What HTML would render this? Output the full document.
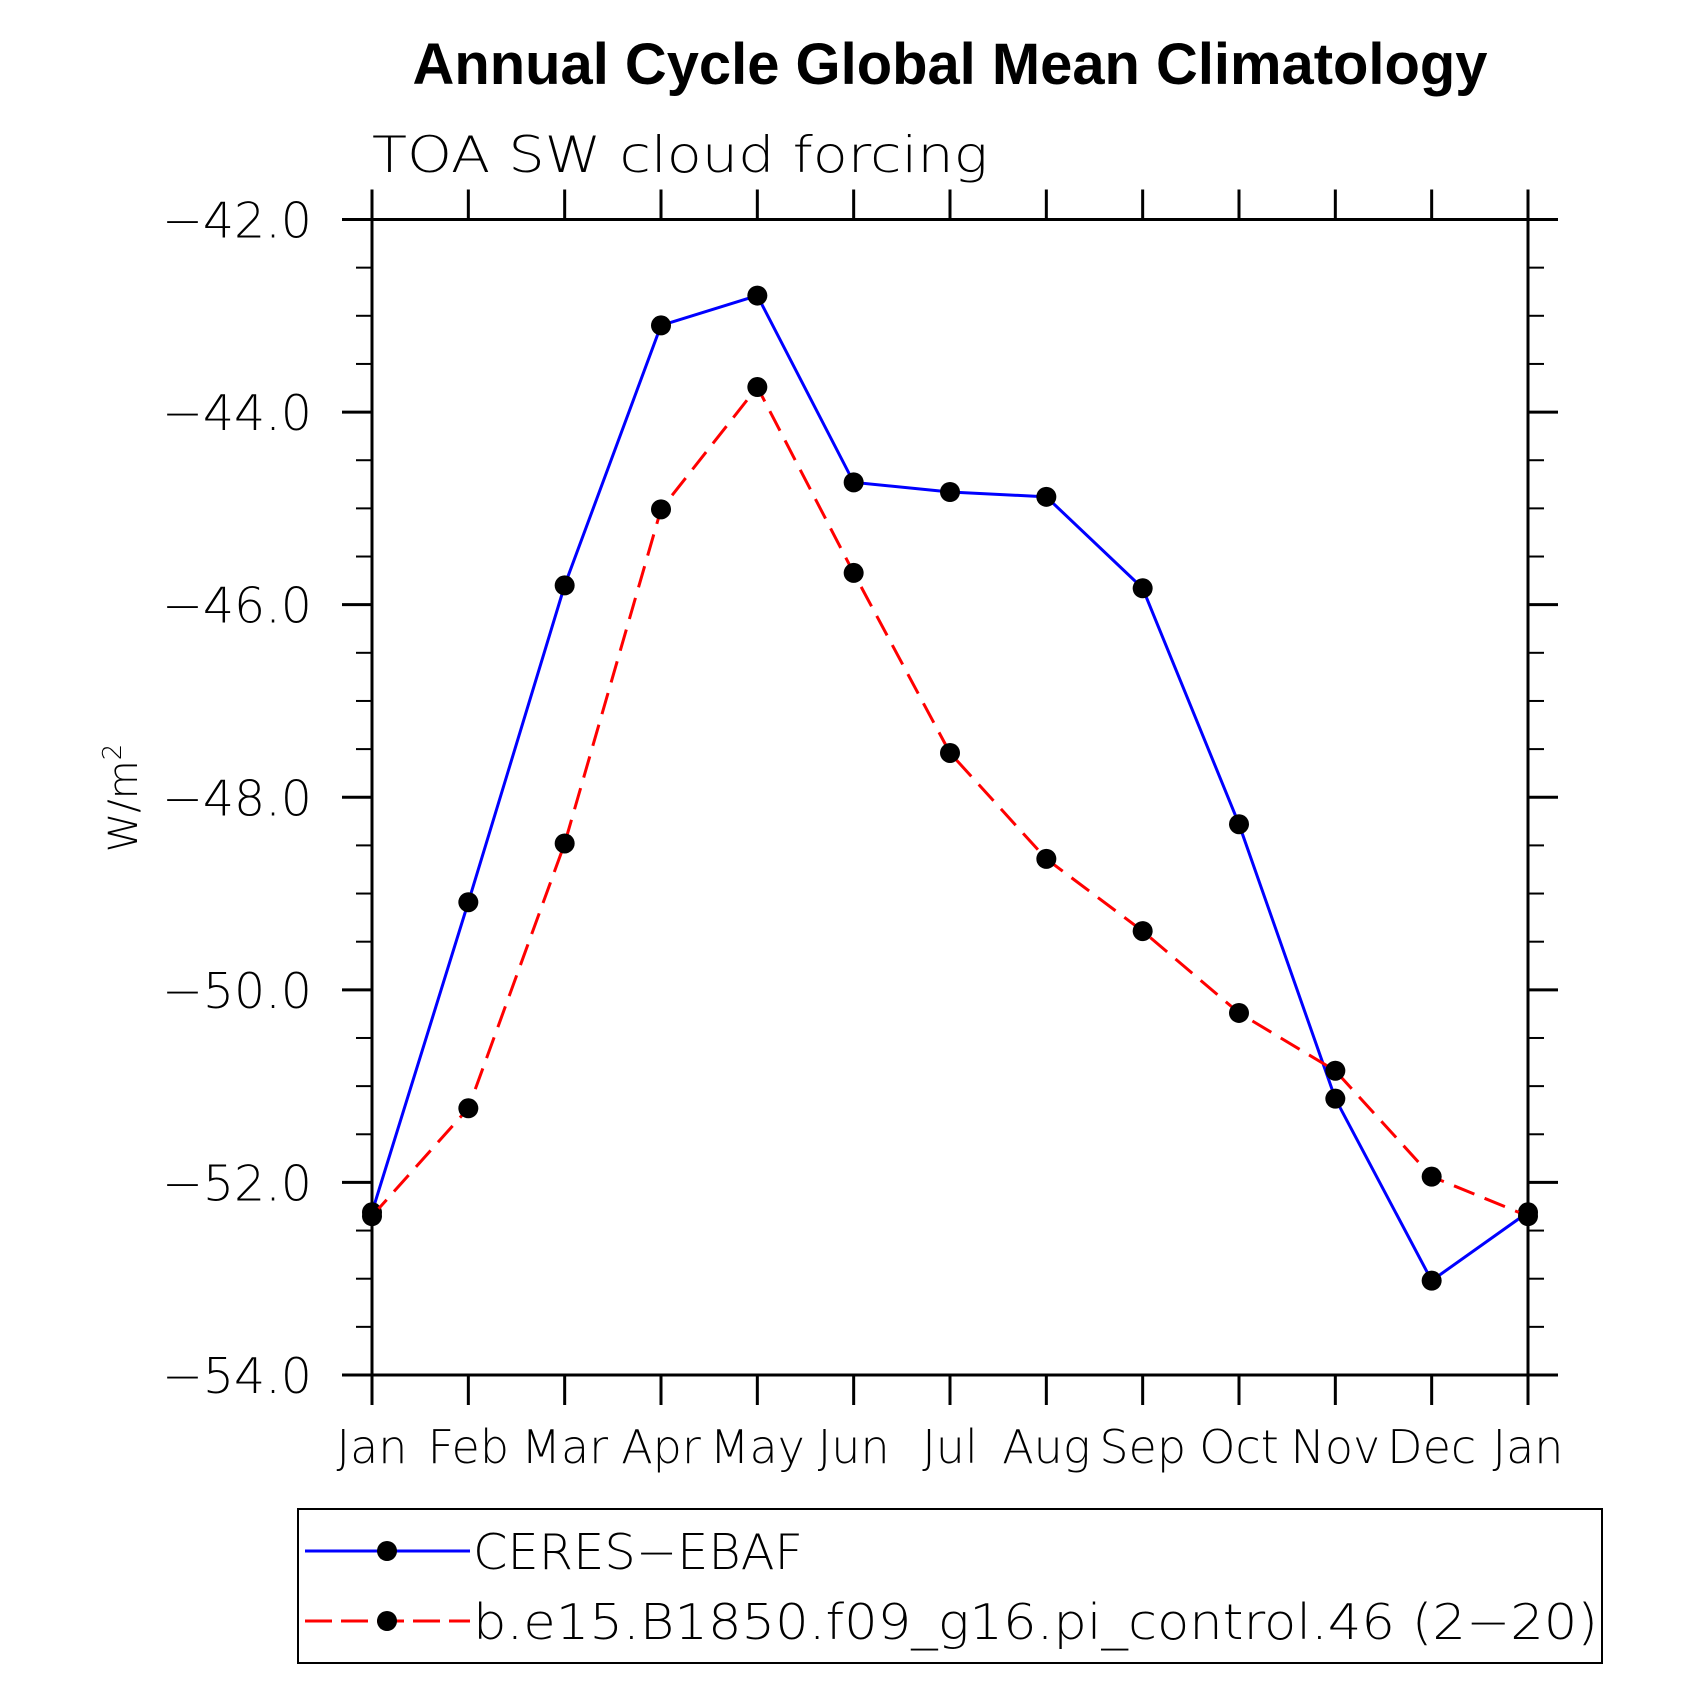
<!DOCTYPE html>
<html><head><meta charset="utf-8"><style>
html,body{margin:0;padding:0;background:#fff}
svg{display:block}
text{font-family:"DejaVu Sans","Liberation Sans",sans-serif;font-weight:200;fill:#000}
</style></head><body>
<svg id="chart" width="1702" height="1702" viewBox="0 0 1702 1702" xmlns="http://www.w3.org/2000/svg">
<text x="950" y="84" text-anchor="middle" font-size="58" textLength="1075" lengthAdjust="spacingAndGlyphs" style="font-family:'Liberation Sans',sans-serif;font-weight:bold">Annual Cycle Global Mean Climatology</text>
<text x="372" y="172" font-size="50" textLength="616" lengthAdjust="spacingAndGlyphs">TOA SW cloud forcing</text>
<text transform="translate(137,798) rotate(-90)" text-anchor="middle" font-size="40">W/m<tspan dy="-16" font-size="26">2</tspan></text>
<g id="axes"></g>
<g id="series"></g>
<g>
<rect x="298" y="1509" width="1304" height="154" fill="none" stroke="#000" stroke-width="2"/>
<g>
<line x1="305" y1="1551" x2="470" y2="1551" stroke="#0000ff" stroke-width="3"/>
<circle cx="387" cy="1551" r="10" fill="#000"/>
<text x="473" y="1569" font-size="49" textLength="330" lengthAdjust="spacingAndGlyphs">CERES−EBAF</text>
</g>
<g>
<line x1="305" y1="1621" x2="470" y2="1621" stroke="#ff0000" stroke-width="3" stroke-dasharray="27,9"/>
<circle cx="387" cy="1621" r="10" fill="#000"/>
<text x="473" y="1639" font-size="49" textLength="1125" lengthAdjust="spacingAndGlyphs">b.e15.B1850.f09_g16.pi_control.46 (2−20)</text>
</g>
</g>
</svg>
<script>
const months = ["Jan","Feb","Mar","Apr","May","Jun","Jul","Aug","Sep","Oct","Nov","Dec","Jan"];
const ceres = [-52.31,-49.09,-45.80,-43.10,-42.79,-44.73,-44.83,-44.88,-45.83,-48.28,-51.13,-53.02,-52.31];
const model = [-52.35,-51.23,-48.48,-45.01,-43.74,-45.67,-47.54,-48.64,-49.39,-50.24,-50.84,-51.94,-52.35];
const yTicks = [-42,-44,-46,-48,-50,-52,-54];
const yTickLabels = ["−42.0","−44.0","−46.0","−48.0","−50.0","−52.0","−54.0"];

const X0=372, X1=1528, Y0=219.5, Y1=1375;
const yMin=-54, yMax=-42;
function xs(i){return X0+(X1-X0)*i/(months.length-1);}
function ys(v){return Y1-(v-yMin)/(yMax-yMin)*(Y1-Y0);}
const NS="http://www.w3.org/2000/svg";
function mk(tag,attrs,parent){const e=document.createElementNS(NS,tag);for(const k in attrs)e.setAttribute(k,attrs[k]);parent.appendChild(e);return e;}
const axes=document.getElementById('axes');
const frame=mk('rect',{x:X0,y:Y0,width:X1-X0,height:Y1-Y0,fill:'none',stroke:'#000','stroke-width':3},axes);


// y ticks
for(let v=yMin; v<=yMax+1e-9; v+=0.5){
  const y=ys(v); const major=Math.abs(v/2-Math.round(v/2))<1e-6; const L=major?30:16;
  const t1=mk('line',{x1:X0-L,y1:y,x2:X0,y2:y,stroke:'#000','stroke-width':major?3:2},axes);
  
  
  const t2=mk('line',{x1:X1,y1:y,x2:X1+L,y2:y,stroke:'#000','stroke-width':major?3:2},axes);
  
  
}
yTicks.forEach((v,i)=>{
  const t=mk('text',{x:312,y:ys(v)+18,'text-anchor':'end','font-size':49},axes);
  t.textContent=yTickLabels[i];
  
  
});
months.forEach((m,i)=>{
  const x=xs(i);
  const a=mk('line',{x1:x,y1:Y0-30,x2:x,y2:Y0,stroke:'#000','stroke-width':3},axes);
  
  
  const b=mk('line',{x1:x,y1:Y1,x2:x,y2:Y1+30,stroke:'#000','stroke-width':3},axes);
  
  
  const t=mk('text',{x:x,y:1463,'text-anchor':'middle','font-size':46},axes);
  t.textContent=m;
  
  
});
const series=document.getElementById('series');
function drawSeries(vals,color,dash,name){
  const pts=vals.map((v,i)=>xs(i)+','+ys(v)).join(' ');
  const pl=mk('polyline',{points:pts,fill:'none',stroke:color,'stroke-width':3},series);
  if(dash) pl.setAttribute('stroke-dasharray',dash);
  
  
  vals.forEach((v,i)=>{
    const c=mk('circle',{cx:xs(i),cy:ys(v),r:10,fill:'#000'},series);
    
    
  });
}
drawSeries(ceres,'#0000ff',null,'ceres-ebaf');
drawSeries(model,'#ff0000','22,11','model');
</script>
</body></html>
